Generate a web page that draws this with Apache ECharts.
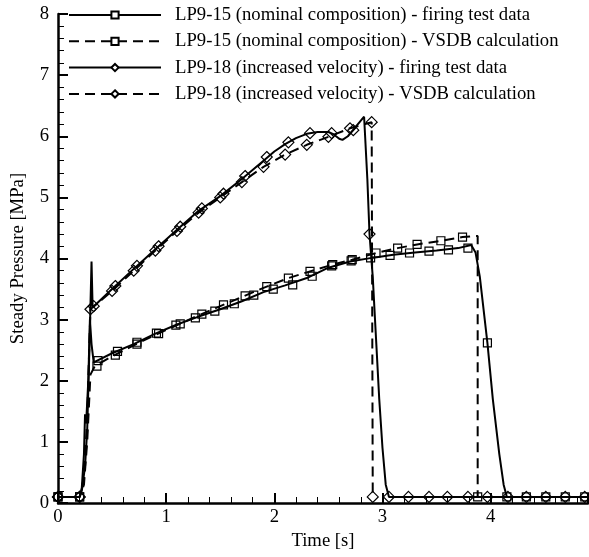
<!DOCTYPE html>
<html>
<head>
<meta charset="utf-8">
<script src="https://cdn.jsdelivr.net/npm/echarts@6/dist/echarts.min.js"></script>
<style>html,body{margin:0;padding:0;background:#fff;}#c{width:589px;height:557px;}</style>
</head>
<body>
<div id="c"></div>
<script>
// ---- Data (time [s], steady pressure [MPa]) ----
const seriesNames = [
  'LP9-15 (nominal composition) - firing test data',
  'LP9-15 (nominal composition) - VSDB calculation',
  'LP9-18 (increased velocity) - firing test data',
  'LP9-18 (increased velocity) - VSDB calculation'
];

// LP9-15 firing test (solid line)
const t15f = [0, 0.2, 0.22, 0.24, 0.25, 0.26, 0.28, 0.295, 0.31, 0.33, 0.5, 0.7, 0.9, 1.1, 1.3, 1.5, 1.7, 1.9, 2.1, 2.3, 2.5, 2.7, 2.9, 3.1, 3.3, 3.5, 3.7, 3.82, 3.86, 3.9, 3.97, 4.02, 4.08, 4.12, 4.15, 4.9];
const p15f = [0.1, 0.1, 0.25, 0.8, 1.45, 1.3, 2.0, 3.0, 2.6, 2.3, 2.45, 2.6, 2.77, 2.92, 3.05, 3.17, 3.3, 3.45, 3.56, 3.68, 3.85, 3.95, 4.01, 4.06, 4.1, 4.13, 4.17, 4.22, 4.1, 3.7, 2.62, 1.7, 0.8, 0.3, 0.1, 0.1];
const m15fT = [0, 0.2, 0.37, 0.55, 0.73, 0.91, 1.09, 1.27, 1.45, 1.63, 1.81, 1.99, 2.17, 2.35, 2.53, 2.71, 2.89, 3.07, 3.25, 3.43, 3.61, 3.79, 3.97, 4.15, 4.33, 4.51, 4.69, 4.87];
const m15fP = [0.1, 0.1, 2.33, 2.48, 2.63, 2.78, 2.91, 3.03, 3.14, 3.26, 3.4, 3.5, 3.57, 3.71, 3.88, 3.96, 4.01, 4.05, 4.09, 4.12, 4.14, 4.17, 2.62, 0.1, 0.1, 0.1, 0.1, 0.1];

// LP9-15 VSDB calculation (dashed line)
const t15v = [0, 0.2, 0.24, 0.27, 0.3, 0.34, 0.5, 0.7, 0.9, 1.1, 1.3, 1.5, 1.7, 1.9, 2.13, 2.33, 2.54, 2.72, 2.94, 3.14, 3.32, 3.54, 3.74, 3.86, 3.88, 3.88];
const p15v = [0.1, 0.1, 0.3, 1.0, 2.1, 2.24, 2.4, 2.58, 2.75, 2.91, 3.07, 3.22, 3.37, 3.52, 3.68, 3.79, 3.9, 3.98, 4.09, 4.17, 4.23, 4.29, 4.35, 4.37, 4.37, 0.1];
const m15vT = [0, 0.2, 0.36, 0.53, 0.73, 0.93, 1.13, 1.33, 1.53, 1.73, 1.93, 2.13, 2.33, 2.54, 2.72, 2.94, 3.14, 3.32, 3.54, 3.74, 3.88];
const m15vP = [0.1, 0.1, 2.24, 2.42, 2.6, 2.77, 2.93, 3.09, 3.24, 3.39, 3.54, 3.68, 3.79, 3.9, 3.98, 4.09, 4.17, 4.23, 4.29, 4.35, 0.1];

// LP9-18 firing test (solid line)
const t18f = [0, 0.2, 0.22, 0.25, 0.27, 0.29, 0.31, 0.32, 0.5, 0.7, 0.9, 1.1, 1.3, 1.5, 1.7, 1.9, 2.0, 2.1, 2.2, 2.3, 2.4, 2.5, 2.55, 2.6, 2.63, 2.68, 2.75, 2.83, 2.86, 2.88, 2.91, 2.94, 2.97, 3.0, 3.03, 3.06, 4.9];
const p18f = [0.1, 0.1, 0.2, 0.6, 1.2, 2.5, 3.95, 3.2, 3.5, 3.83, 4.15, 4.47, 4.78, 5.02, 5.3, 5.6, 5.75, 5.87, 5.97, 6.04, 6.07, 6.07, 6.03, 5.96, 5.94, 6.0, 6.15, 6.32, 5.3, 4.4, 3.7, 2.7, 1.7, 0.9, 0.3, 0.1, 0.1];
const m18fT = [0, 0.2, 0.33, 0.53, 0.73, 0.93, 1.13, 1.33, 1.53, 1.73, 1.93, 2.13, 2.33, 2.53, 2.73, 2.88, 3.06, 3.24, 3.43, 3.6, 3.79, 3.97, 4.16, 4.33, 4.51, 4.69, 4.87];
const m18fP = [0.1, 0.1, 3.22, 3.55, 3.88, 4.2, 4.52, 4.82, 5.06, 5.35, 5.66, 5.9, 6.05, 6.05, 6.1, 4.4, 0.1, 0.1, 0.1, 0.1, 0.1, 0.1, 0.1, 0.1, 0.1, 0.1, 0.1];

// LP9-18 VSDB calculation (dashed line)
const t18v = [0, 0.2, 0.24, 0.27, 0.3, 0.5, 0.7, 0.9, 1.1, 1.3, 1.5, 1.7, 1.9, 2.1, 2.3, 2.5, 2.7, 2.9, 2.91];
const p18v = [0.1, 0.1, 0.4, 1.4, 3.17, 3.47, 3.8, 4.13, 4.45, 4.75, 5.0, 5.25, 5.5, 5.7, 5.86, 5.99, 6.13, 6.23, 0.1];
const m18vT = [0, 0.2, 0.3, 0.5, 0.7, 0.9, 1.1, 1.3, 1.5, 1.7, 1.9, 2.1, 2.3, 2.5, 2.7, 2.9, 2.91];
const m18vP = [0.1, 0.1, 3.17, 3.47, 3.8, 4.13, 4.45, 4.75, 5.0, 5.25, 5.5, 5.7, 5.86, 5.99, 6.13, 6.23, 0.1];

const xTicks = [0, 1, 2, 3, 4];
const yTicks = [0, 1, 2, 3, 4, 5, 6, 7, 8];

// ---- Chart ----
const FONT = '"Liberation Serif", "Times New Roman", serif';
const FS = 18.7;
const zip = (a, b) => a.map((v, i) => [v, b[i]]);
const lines = [
  { t: t15f, p: p15f, mt: m15fT, mp: m15fP, sym: 'emptyRect', msym: 'rect', dash: 'solid', size: 8 },
  { t: t15v, p: p15v, mt: m15vT, mp: m15vP, sym: 'emptyRect', msym: 'rect', dash: [10, 6], size: 8 },
  { t: t18f, p: p18f, mt: m18fT, mp: m18fP, sym: 'emptyDiamond', msym: 'diamond', dash: 'solid', size: 11 },
  { t: t18v, p: p18v, mt: m18vT, mp: m18vP, sym: 'emptyDiamond', msym: 'diamond', dash: [10, 6], size: 11 }
];

const series = [];
lines.forEach((L, i) => {
  series.push({
    name: seriesNames[i], type: 'line', data: zip(L.t, L.p),
    symbol: L.sym, showSymbol: false, symbolSize: L.size,
    lineStyle: { color: '#000', width: 2, type: L.dash },
    itemStyle: { color: '#000', borderColor: '#000' },
    animation: false, z: 3
  });
});
lines.forEach((L, i) => {
  series.push({
    name: seriesNames[i] + ' markers', type: 'scatter', data: zip(L.mt, L.mp),
    symbol: L.msym, symbolSize: L.size,
    itemStyle: { color: 'rgba(0,0,0,0)', borderColor: '#000', borderWidth: 1.2, opacity: 1 },
    animation: false, z: 4, silent: true
  });
});

const chart = echarts.init(document.getElementById('c'), null, { renderer: 'canvas' });
chart.setOption({
  backgroundColor: '#fff',
  animation: false,
  grid: { left: 58, top: 14, right: 1, bottom: 54, outerBoundsMode: 'none' },
  legend: {
    data: seriesNames, orient: 'vertical', left: 68, top: 5.5, padding: 0,
    itemWidth: 92, itemHeight: 9, itemGap: 7.3,
    textStyle: { fontFamily: FONT, fontSize: FS, color: '#000', lineHeight: 19, padding: [0, 0, 0, 9] },
    selectedMode: false
  },
  xAxis: {
    type: 'value', min: 0, max: 4.9, interval: 1,
    name: 'Time [s]', nameLocation: 'middle', nameGap: 28,
    nameTextStyle: { fontFamily: FONT, fontSize: FS, color: '#000' },
    axisLine: { show: true, onZero: false, lineStyle: { color: '#000', width: 2.5 } },
    axisTick: { show: true, inside: true, length: 10, lineStyle: { color: '#000', width: 2 } },
    minorTick: { show: true, splitNumber: 5, length: 6, lineStyle: { color: '#000', width: 1 } },
    axisLabel: { fontFamily: FONT, fontSize: FS, color: '#000', margin: 5, showMaxLabel: false,
      formatter: v => (xTicks.indexOf(v) >= 0 ? String(v) : '') },
    splitLine: { show: false }
  },
  yAxis: {
    type: 'value', min: 0, max: 8, interval: 1,
    name: 'Steady Pressure [MPa]', nameLocation: 'middle', nameGap: 30,
    nameTextStyle: { fontFamily: FONT, fontSize: FS, color: '#000' },
    axisLine: { show: true, onZero: false, lineStyle: { color: '#000', width: 2.5 } },
    axisTick: { show: true, inside: true, length: 10, lineStyle: { color: '#000', width: 2 } },
    minorTick: { show: true, splitNumber: 5, length: 6, lineStyle: { color: '#000', width: 1 } },
    axisLabel: { fontFamily: FONT, fontSize: FS, color: '#000', margin: 9,
      formatter: v => (yTicks.indexOf(v) >= 0 ? String(v) : '') },
    splitLine: { show: false }
  },
  series: series
});
</script>
</body>
</html>
